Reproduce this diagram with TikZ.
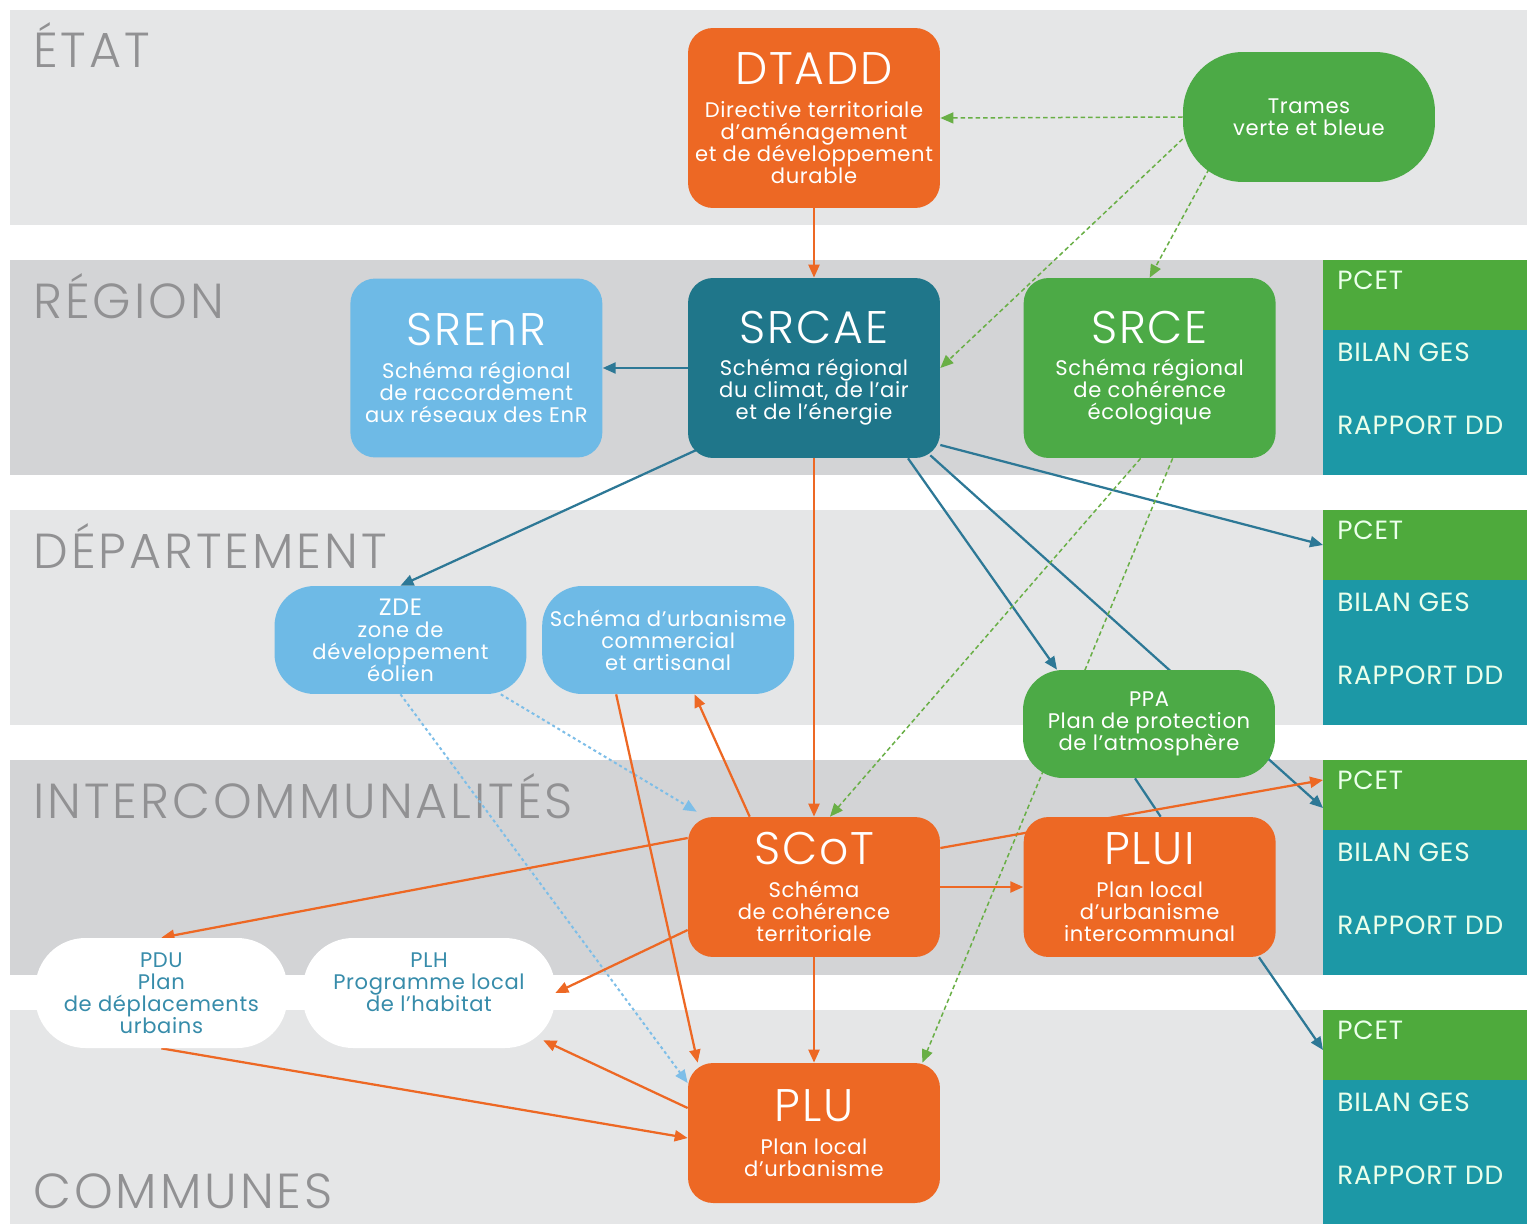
\documentclass[tikz,border=0pt]{standalone}
\usepackage{fontspec}
\setmainfont{Poppins}[LetterSpace=3]
\IfFontExistsTF{Poppins Light}{%
  \newfontfamily\thinfont{Poppins Light}[LetterSpace=4]%
  \newfontfamily\bandfont{Poppins Light}[LetterSpace=6]}{%
  \newfontfamily\thinfont{Poppins}[LetterSpace=4]%
  \newfontfamily\bandfont{Poppins}[LetterSpace=6]}
\usetikzlibrary{arrows.meta,positioning,calc}
\definecolor{orangeD}{RGB}{237,104,36}
\definecolor{tealD}{RGB}{31,118,138}
\definecolor{blueL}{RGB}{110,186,230}
\definecolor{greenD}{RGB}{76,170,70}
\definecolor{tealR}{RGB}{28,152,166}
\definecolor{greenR}{RGB}{78,170,60}
\definecolor{linkteal}{RGB}{45,120,150}
\definecolor{dashgreen}{RGB}{105,175,70}
\definecolor{dashblue}{RGB}{125,190,232}
\definecolor{bandA}{RGB}{229,230,231}
\definecolor{bandB}{RGB}{211,212,214}
\definecolor{labgray}{RGB}{145,145,147}
\definecolor{wtxt}{RGB}{55,140,170}
\newcommand\subf{\fontsize{12}{12.5}\selectfont\lineskiplimit=-10pt}
\newcommand\ttl[1]{{\thinfont\fontsize{26}{26}\selectfont #1}\\[6pt]}
\pgfdeclarelayer{bands}
\pgfdeclarelayer{wires}
\pgfsetlayers{bands,wires,main}
\tikzset{
  box/.style={rectangle, rounded corners=5mm, minimum width=5.04cm, inner sep=0pt,
              text=white, align=center, font=\subf},
  obox/.style={box, fill=orangeD},
  tbox/.style={box, fill=tealD},
  lbox/.style={box, fill=blueL},
  gbox/.style={box, fill=greenD},
  bpill/.style={box, fill=blueL, rounded corners=8mm, minimum height=2.16cm},
  gpill/.style={box, fill=greenD, rounded corners=8mm, minimum height=2.16cm},
  wpill/.style={box, fill=white, text=wtxt, rounded corners=1cm, minimum height=2.2cm},
  bandlbl/.style={font=\bandfont\fontsize{28}{30}\selectfont, text=labgray, inner sep=0pt},
  sidelbl/.style={font=\fontsize{15}{16}\selectfont, text=white!92!green, inner sep=0pt},
  pcetbox/.style={rectangle, fill=greenR, minimum width=4.08cm, minimum height=1.4cm,
                  inner sep=0pt, outer sep=0pt},
  gesbox/.style={rectangle, fill=tealR, minimum width=4.08cm, minimum height=2.9cm,
                 inner sep=0pt, outer sep=0pt},
  ar/.style={-{Triangle[length=2.6mm,width=2.2mm]}, line width=0.45mm},
  ora/.style={ar, draw=orangeD},
  tea/.style={ar, draw=linkteal},
  teaplain/.style={line width=0.45mm, draw=linkteal},
  grd/.style={ar, draw=dashgreen, line width=0.3mm, dash pattern=on 0.9mm off 0.6mm},
  bld/.style={ar, draw=dashblue, line width=0.4mm, dash pattern=on 0.6mm off 0.6mm},
}

\begin{document}
\begin{tikzpicture}[x=0.02cm, y=-0.02cm]
\useasboundingbox (0,0) rectangle (1527,1223);

% ============================ bands ==============================
\begin{pgfonlayer}{bands}
\fill[white] (0,0) rectangle (1527,1223);
\foreach \i/\lab/\col/\ly in {0/ÉTAT/bandA/58, 1/RÉGION/bandB/58,
  2/DÉPARTEMENT/bandA/58, 3/INTERCOMMUNALITÉS/bandB/58, 4/COMMUNES/bandA/198}
{
  \pgfmathsetmacro{\bt}{10+250*\i}
  \fill[\col] (10,\bt) rectangle (1527,\bt+215);
  \node[bandlbl, anchor=base west] (lab\i) at (33,\bt+\ly) {\lab};
}
\end{pgfonlayer}

% ============================ right column ==============================
\foreach \i in {1,...,4}
{
  \pgfmathsetmacro{\bt}{10+250*\i}
  \node[pcetbox, anchor=north west] (pcet\i) at (1323,\bt) {};
  \node[gesbox, anchor=north west] (ges\i) at (1323,\bt+70) {};
  \node[sidelbl, anchor=base west] (pcett\i) at (1337,\bt+29) {PCET};
  \node[sidelbl, anchor=base west] (gest\i) at (1337,\bt+101) {BILAN GES};
  \node[sidelbl, anchor=base west] (ddt\i) at (1337,\bt+174) {RAPPORT DD};
}

% ============================ schemes ==============================
\node[obox, minimum height=3.6cm] (dtadd) at (814,118)
  {\ttl{DTADD}Directive territoriale\\d'aménagement\\et de développement\\durable};
\node[gpill, minimum height=2.6cm, rounded corners=12mm] (trames) at (1309,117)
  {Trames\\verte et bleue};
\node[tbox, minimum height=3.6cm] (srcae) at (814,368)
  {\ttl{SRCAE}Schéma régional\\du climat, de l'air\\et de l'énergie};
\node[lbox, minimum height=3.58cm, left=1.7cm of srcae] (srenr)
  {\ttl{SREnR}Schéma régional\\de raccordement\\aux réseaux des EnR};
\node[gbox, minimum height=3.6cm, right=1.66cm of srcae] (srce)
  {\ttl{SRCE}Schéma régional\\de cohérence\\écologique};
\node[bpill] (zde) at (400.5,640)
  {{\fontsize{13.5}{12.5}\selectfont ZDE}\\zone de\\développement\\éolien};
\node[bpill, right=0.3cm of zde] (suca)
  {Schéma d'urbanisme\\commercial\\et artisanal};
\node[gpill] (ppa) at (1149,724)
  {PPA\\Plan de protection\\de l'atmosphère};
\node[obox, minimum height=2.8cm] (scot) at (814,887)
  {\ttl{SCoT}Schéma\\de cohérence\\territoriale};
\node[obox, minimum height=2.8cm, right=1.66cm of scot] (plui)
  {\ttl{PLUI}Plan local\\d'urbanisme\\intercommunal};
\node[wpill] (plh) at (429,993)
  {PLH\\Programme local\\de l'habitat\\\mbox{}};
\node[wpill, left=0.3cm of plh] (pdu)
  {PDU\\Plan\\de déplacements\\urbains};
\node[obox, minimum height=2.8cm] (plu) at (814,1133)
  {\ttl{PLU}Plan local\\d'urbanisme};

% ============================ links ==============================
\begin{pgfonlayer}{wires}
\draw[ora] (dtadd.south) -- (srcae.north);
\draw[grd] (trames.west) -- (dtadd.east);
\draw[grd] ($(trames.west)+(0,22)$) -- (srcae.east);
\draw[grd] ($(trames.center)+(-100,52)$) -- (srce.north);
\draw[tea] (srcae.west) -- (srenr.east);
\draw[tea] ($(srcae.south west)+(8,-8)$) -- (zde.north);
\draw[ora] (srcae.south) -- (scot.north);
\draw[tea] ($(srcae.south)+(94,0)$) -- ($(ppa.north)+(-92,0)$);
\draw[teaplain] ($(ppa.south)+(-14,0)$) -- ($(plui.north)+(11,0)$);
\draw[tea] ($(srcae.south east)+(-10,-3)$) -- ($(pcet3.west)+(0,13)$);
\draw[tea] ($(srcae.east)+(0,77)$) -- (pcet2.west);
\draw[grd] ($(srce.south)+(-9,0)$) -- ($(scot.north)+(16,0)$);
\draw[grd] ($(srce.south)+(23,0)$) -- ($(plu.north east)+(-18,0)$);
\draw[bld] (zde.south) -- ($(plu.west)+(0,-50)$);
\draw[bld] ($(zde.south east)+(-26,0)$) -- ($(scot.north west)+(9,-5)$);
\draw[ora] ($(suca.south)+(-52,0)$) -- ($(plu.north west)+(10,0)$);
\draw[ora] ($(scot.north west)+(62,0)$) -- ($(suca.south east)+(-100,0)$);
\draw[ora] ($(scot.west)+(0,-49)$) -- (pdu.north);
\draw[ora] ($(scot.west)+(0,43)$) -- (plh.east);
\draw[ora] ($(scot.east)+(0,-39)$) -- ($(pcet3.west)+(0,-15)$);
\draw[ora] (scot.east) -- (plui.west);
\draw[ora] (scot.south) -- (plu.north);
\draw[ora] ($(plu.west)+(0,-25)$) -- ($(plh.south east)+(-12,-8)$);
\draw[ora] (pdu.south) -- ($(plu.west)+(0,5)$);
\draw[tea] ($(plui.south east)+(-17,0)$) -- ($(pcet4.west)+(0,5)$);
\end{pgfonlayer}

\end{tikzpicture}
\end{document}
